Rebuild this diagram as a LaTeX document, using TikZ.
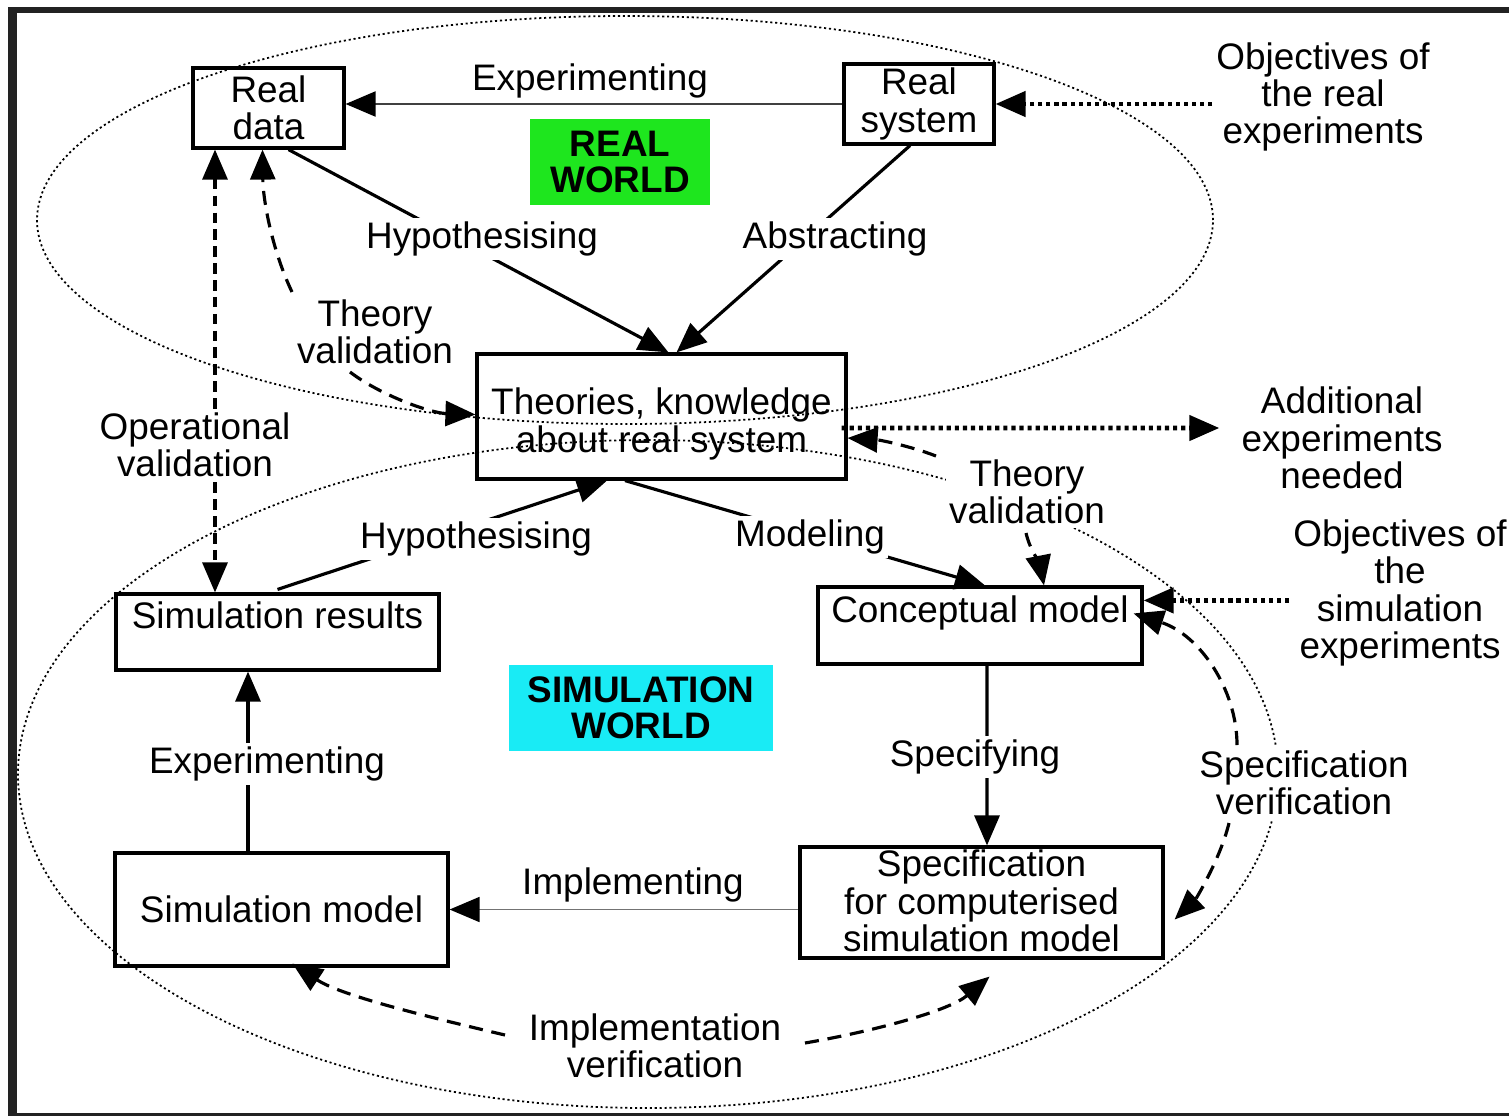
\documentclass[tikz,border=0pt]{standalone}
\usepackage{fontspec}
\setmainfont{Liberation Sans}
\usetikzlibrary{arrows.meta,calc,backgrounds}
\definecolor{rwgreen}{RGB}{30,230,30}
\definecolor{swcyan}{RGB}{25,235,245}
\definecolor{framecol}{RGB}{34,34,34}
\begin{document}
\begin{tikzpicture}[x=0.1mm,y=-0.1mm,
  font=\fontsize{10.5}{10.6}\selectfont,
  box/.style={draw, line width=0.9pt, inner sep=0pt},
  lbl/.style={fill=white, inner sep=1pt, align=center},
  bftext/.style={font=\fontsize{10.5}{10.4}\selectfont\bfseries, align=center},
  bigtip/.style={-{Triangle[length=3mm,width=2.5mm,color=black]}},
  bothtip/.style={{Triangle[length=3mm,width=2.5mm]}-{Triangle[length=3mm,width=2.5mm]}},
  solidarr/.style={line width=0.9pt, bigtip},
  dasharr/.style={line width=0.9pt, dash pattern=on 4pt off 2.5pt, bigtip},
  opdash/.style={line width=0.9pt, dash pattern=on 3pt off 1.8pt, bothtip},
  dotarr/.style={line width=1.3pt, dash pattern=on 1.2pt off 1.1pt, bigtip},
  worldell/.style={line width=0.5pt, dash pattern=on 0.6pt off 0.8pt},
]
\useasboundingbox (0,0) rectangle (1509,1116);

% boxes
\node[box, minimum width=15.1mm, minimum height=8mm, align=center] (rd) at (268.5,108) {Real\\data};
\node[box, minimum width=15mm, minimum height=8mm, align=center] (rs) at (919,104) {Real\\system};
\node[fill=rwgreen, minimum width=18mm, minimum height=7.9mm, bftext] (rw) at (620,162) {REAL\\WORLD};
\node[box, minimum width=36.9mm, minimum height=12.5mm] (th) at (661.5,416.5) {};
\node[align=center] (tht) at (661.5,424) {Theories, knowledge\\about real system};
\node[box, minimum width=32.3mm, minimum height=7.6mm] (sr) at (277.5,632) {};
\node (srt) at (277.5,615) {Simulation results};
\node[box, minimum width=32.4mm, minimum height=7.7mm] (cm) at (980,625.5) {};
\node (cmt) at (980,613) {Conceptual model};
\node[fill=swcyan, minimum width=26.4mm, minimum height=8mm, bftext] (sw) at (641,708) {SIMULATION\\WORLD};
\node[box, minimum width=36.3mm, minimum height=11.1mm] (sp) at (981.5,902.5) {};
\node[align=center] (spt) at (981.5,901) {Specification\\for computerised\\simulation model};
\node[box, minimum width=33.3mm, minimum height=11.3mm] (sm) at (281.5,909.5) {Simulation model};

% labels
\node[lbl] (ob1) at (1323,97) {Objectives of\\the real\\experiments};
\node[lbl] (ad) at (1342,438) {Additional\\experiments\\needed};
\node[lbl] (os) at (1400,593) {Objectives of\\the\\simulation\\experiments};
\node[lbl] (tv1) at (375,332) {Theory\\validation};
\node[lbl] (tv2) at (1027,492) {Theory\\validation};
\node[lbl] (ov) at (195,445) {Operational\\validation};
\node[lbl] (sv) at (1304,783) {Specification\\verification};
\node[lbl] (iv) at (655,1046) {Implementation\\verification};
\node[align=center, inner sep=1pt] (lexpa) at (590,81) {Experimenting};
\node[lbl] (lhypa) at (482,239) {Hypothesising};
\node[lbl] (labs) at (835,239) {Abstracting};
\node[lbl] (lhypb) at (476,539) {Hypothesising};
\node[lbl] (lmod) at (810,537) {Modeling};
\node[lbl] (lspe) at (975,757) {Specifying};
\node[lbl] (lexpb) at (267,764) {Experimenting};
\node[align=center, inner sep=1pt] (limp) at (633,885) {Implementing};

% curve start points
\coordinate (tva) at (292,292);
\coordinate (tvb) at (350,372);
\coordinate (tvc) at (936,456);
\coordinate (tvd) at (1026,533);
\coordinate (sva) at (1237,745);
\coordinate (svb) at (1229,823);
\coordinate (iva) at (505,1035);
\coordinate (ivb) at (805,1043);
\coordinate (cmo) at ($(cm.north east)+(0,15)$);

\begin{pgfonlayer}{background}
\fill[white] (0,0) rectangle (1509,1116);
\fill[framecol] (8,7) rectangle (1509,13);
\fill[framecol] (8,7) rectangle (17,1116);
\fill[framecol] (8,1113) rectangle (1509,1116);

\draw[worldell] (625,220) ellipse [x radius=58.8mm, y radius=20.4mm];
\draw[worldell] (648,774) ellipse [x radius=63mm, y radius=33.4mm];

% real world
\draw[line width=0.6pt, draw=black!75, bigtip] (rs.west) -- (rs.west -| rd.east);
\draw[dotarr] (ob1.west |- rs.east) -- (rs.east);
\draw[solidarr] ($(rd.south)+(20,0)$) -- ($(th.north)+(7,0)$);
\draw[solidarr] ($(rs.south)+(-9,0)$) -- ($(th.north)+(15,0)$);
\draw[opdash] ($(rd.south)+(-53.5,0)$) -- ($(sr.north)+(-62.5,0)$);
\draw[dasharr] (tva) .. controls (272,250) and (263,200) .. ($(rd.south)+(-6,0)$);
\draw[dasharr] (tvb) .. controls (380,395) and (430,413) .. ($(th.west)+(0,-2)$);
\draw[dotarr] ($(th.east)+(-6,11.5)$) -- ($(ad.west)+(-18,-10)$);
\draw[dasharr] (tvc) .. controls (910,446) and (880,440) .. ($(th.east)+(0,21.5)$);
\draw[dasharr] (tvd) .. controls (1030,550) and (1040,565) .. ($(cm.north)+(64,0)$);

% simulation world
\draw[solidarr] ($(sr.north)+(0,-3)$) -- ($(th.south)+(-54.5,0)$);
\draw[solidarr] ($(th.south)+(-36.5,0)$) -- ($(cm.north)+(5,0)$);
\draw[dotarr] (os.west |- cmo) -- (cmo);
\draw[solidarr] ($(cm.south)+(7,0)$) -- ($(sp.north)+(5.5,0)$);
\draw[dasharr] (sva) .. controls (1237,690) and (1200,635) .. ($(cm.north east)+(-10,28)$);
\draw[dasharr] (svb) .. controls (1220,860) and (1195,900) .. ($(sp.east)+(10,17)$);
\draw[line width=0.5pt, draw=black!55, bigtip] (sp.west |- sm.east) -- (sm.east);
\draw[solidarr] ($(sm.north)+(-33.5,0)$) -- ($(sr.south)+(-29.5,0)$);
\draw[dasharr] (iva) .. controls (420,1015) and (340,995) .. ($(sm.south)+(11,-4)$);
\draw[dasharr] (ivb) .. controls (880,1030) and (950,1010) .. ($(sp.south)+(8,17)$);
\end{pgfonlayer}
\end{tikzpicture}
\end{document}
